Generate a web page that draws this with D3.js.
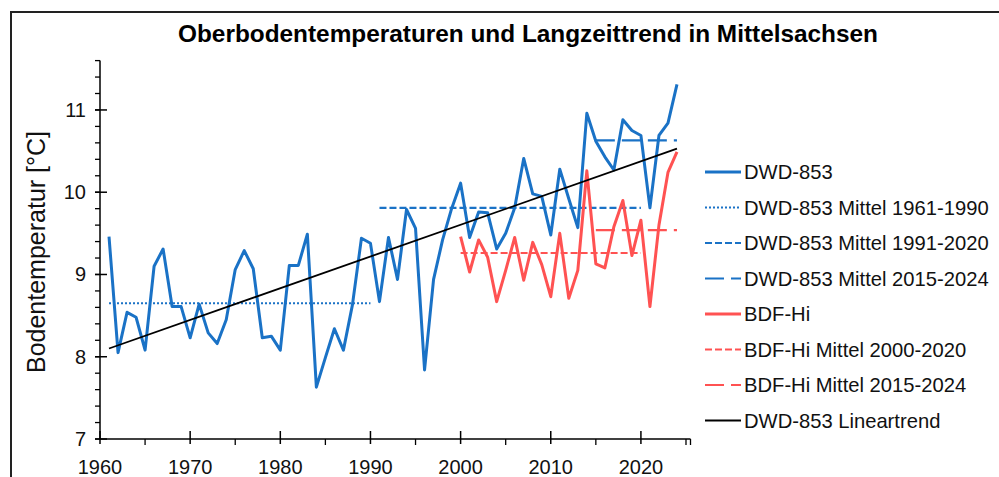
<!DOCTYPE html>
<html><head><meta charset="utf-8">
<script src="https://cdn.jsdelivr.net/npm/d3@7"></script>
<style>
html,body{margin:0;padding:0;background:#fff;}
svg{display:block;font-family:"Liberation Sans",Arial,sans-serif;}
</style></head>
<body>
<svg id="c" width="999" height="477"></svg>
<script>
// ---- data ----
const dwdYears = d3.range(1961, 2025);
const dwdValues = [9.46,8.05,8.54,8.48,8.08,9.10,9.31,8.61,8.61,8.23,
  8.64,8.29,8.16,8.45,9.06,9.29,9.07,8.23,8.25,8.08,
  9.11,9.11,9.49,7.63,7.99,8.34,8.08,8.63,9.44,9.38,
  8.67,9.45,8.94,9.79,9.56,7.84,8.94,9.42,9.80,10.11,
  9.45,9.76,9.75,9.31,9.50,9.81,10.41,9.98,9.95,9.48,
  10.28,9.92,9.57,10.96,10.62,10.43,10.27,10.88,10.75,10.69,
  9.81,10.69,10.84,11.31];
const bdfYears = d3.range(2000, 2025);
const bdfValues = [9.46,9.03,9.42,9.21,8.67,9.05,9.45,8.93,9.39,9.12,
  8.73,9.50,8.71,9.05,10.26,9.13,9.08,9.58,9.90,9.23,
  9.66,8.61,9.60,10.24,10.49];
// period means [start, end, value]
const dwdMean6190 = [1961, 1990, 8.65];
const dwdMean9120 = [1991, 2020, 9.81];
const dwdMean1524 = [2015, 2024, 10.63];
const bdfMean0020 = [2000, 2020, 9.26];
const bdfMean1524 = [2015, 2024, 9.54];
const trendYears = [1961, 2024];
const trendValues = [8.10, 10.53];
const xTicks = [1960,1970,1980,1990,2000,2010,2020];
const yTicks = [7,8,9,10,11];
const legendLabels = ["DWD-853","DWD-853 Mittel 1961-1990","DWD-853 Mittel 1991-2020","DWD-853 Mittel 2015-2024",
  "BDF-Hi","BDF-Hi Mittel 2000-2020","BDF-Hi Mittel 2015-2024","DWD-853 Lineartrend"];
const titleText = "Oberbodentemperaturen und Langzeittrend in Mittelsachsen";
const yLabel = "Bodentemperatur [°C]";

// ---- styles ----
const BLUE = "#1a72c6", RED = "#ff5252", BLACK = "#000";
const styles = [
  {c:BLUE, w:3, d:null},
  {c:BLUE, w:2, d:"2,2"},
  {c:BLUE, w:2.2, d:"7,3"},
  {c:BLUE, w:2.2, d:"19,7"},
  {c:RED, w:3, d:null},
  {c:RED, w:2, d:"7,3"},
  {c:RED, w:2.2, d:"19,7"},
  {c:BLACK, w:1.8, d:null}
];

const svg = d3.select("#c");
const x = d3.scaleLinear().domain([1960, 2025.5]).range([100, 690.5]);
const y = d3.scaleLinear().domain([7, 11.6]).range([439, 60.6]);

// frame
svg.append("line").attr("x1",10).attr("x2",999).attr("y1",12).attr("y2",12).attr("stroke","#222").attr("stroke-width",2);
svg.append("line").attr("x1",11).attr("x2",11).attr("y1",12).attr("y2",477).attr("stroke","#222").attr("stroke-width",2);

// title
svg.append("text").attr("x",178).attr("y",42).attr("font-size",24).attr("font-weight","bold")
  .attr("textLength",700).attr("lengthAdjust","spacingAndGlyphs").text(titleText);

// y axis
const yMinor = d3.range(7, 11.61, 0.2);
const gy = svg.append("g");
gy.append("line").attr("x1",100).attr("x2",100).attr("y1",y(11.6)).attr("y2",y(7)).attr("stroke","#000").attr("stroke-width",1.5);
gy.selectAll("line.mn").data(yMinor).join("line").attr("class","mn")
  .attr("x1",95).attr("x2",100).attr("y1",d=>y(d)).attr("y2",d=>y(d)).attr("stroke","#000").attr("stroke-width",1.3);
gy.selectAll("line.mj").data(yTicks).join("line").attr("class","mj")
  .attr("x1",95).attr("x2",107).attr("y1",d=>y(d)).attr("y2",d=>y(d)).attr("stroke","#000").attr("stroke-width",1.5);
gy.selectAll("text").data(yTicks).join("text").attr("x",86).attr("y",d=>y(d)+7)
  .attr("text-anchor","end").attr("font-size",20).attr("fill","#111").text(d=>d);

// x axis
const xMinor = d3.range(1965, 2026, 10);
const gx = svg.append("g");
gx.append("line").attr("x1",100).attr("x2",x(2025.5)).attr("y1",439).attr("y2",439).attr("stroke","#000").attr("stroke-width",1.5);
gx.selectAll("line.mn").data(xMinor).join("line").attr("class","mn")
  .attr("x1",d=>x(d)).attr("x2",d=>x(d)).attr("y1",439).attr("y2",445).attr("stroke","#000").attr("stroke-width",1.3);
gx.append("line").attr("x1",x(2025.5)).attr("x2",x(2025.5)).attr("y1",439).attr("y2",445).attr("stroke","#000").attr("stroke-width",1.3);
gx.selectAll("line.mj").data(xTicks).join("line").attr("class","mj")
  .attr("x1",d=>x(d)).attr("x2",d=>x(d)).attr("y1",431).attr("y2",444).attr("stroke","#000").attr("stroke-width",1.5);
gx.selectAll("text").data(xTicks).join("text").attr("x",d=>x(d)).attr("y",474)
  .attr("text-anchor","middle").attr("font-size",20).attr("fill","#111").text(d=>d);

// y label
svg.append("text").attr("transform","translate(45,252) rotate(-90)").attr("text-anchor","middle")
  .attr("font-size",25).attr("fill","#111").text(yLabel);

// series
const line = d3.line().x(d=>x(d[0])).y(d=>y(d[1]));
function draw(pts, s){
  svg.append("path").attr("d", line(pts)).attr("fill","none").attr("stroke",s.c)
    .attr("stroke-width",s.w).attr("stroke-dasharray",s.d).attr("stroke-linejoin","round");
}
const meanPts = m => [[m[0],m[2]],[m[1],m[2]]];
draw(dwdYears.map((yr,i)=>[yr,dwdValues[i]]), styles[0]);
draw(meanPts(dwdMean6190), styles[1]);
draw(meanPts(dwdMean9120), styles[2]);
draw(meanPts(dwdMean1524), styles[3]);
draw(bdfYears.map((yr,i)=>[yr,bdfValues[i]]), styles[4]);
draw(meanPts(bdfMean0020), styles[5]);
draw(meanPts(bdfMean1524), styles[6]);
draw(trendYears.map((yr,i)=>[yr,trendValues[i]]), styles[7]);

// legend
const lg = svg.append("g");
legendLabels.forEach((lab,i)=>{
  const yy = 172 + i*35.5, s = styles[i];
  lg.append("line").attr("x1",705).attr("x2",741).attr("y1",yy).attr("y2",yy)
    .attr("stroke",s.c).attr("stroke-width",s.w).attr("stroke-dasharray",s.d);
  lg.append("text").attr("x",744).attr("y",yy+7).attr("font-size",20.2).attr("fill","#111").text(lab);
});
</script>
</body></html>
